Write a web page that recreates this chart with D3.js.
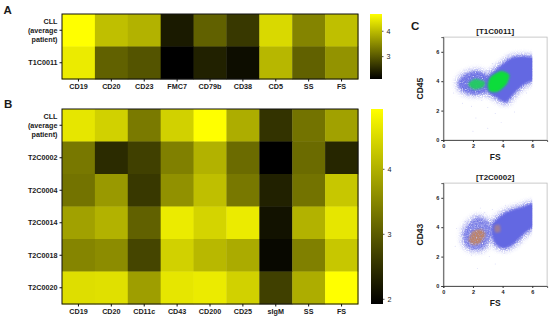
<!DOCTYPE html>
<html><head><meta charset="utf-8">
<script src="https://cdn.jsdelivr.net/npm/d3@7"></script>
<style>
html,body{margin:0;padding:0;background:#fff}
svg{display:block}
text{font-family:"Liberation Sans",Arial,sans-serif;font-weight:700;fill:#1a1a1a}
</style></head><body><svg id="c" width="550" height="321"></svg>
<script>
const markersA = ["CD19","CD20","CD23","FMC7","CD79b","CD38","CD5","SS","FS"];
const rowsA = ["CLL|(average|patient)","T1C0011"];
const valuesA = [
  [4.66,4.02,3.89,2.36,3.07,2.66,4.28,3.43,4.02],
  [4.46,3.07,2.94,2.10,2.43,2.23,3.94,3.07,3.58]
];
const markersB = ["CD19","CD20","CD11c","CD43","CD200","CD25","sIgM","SS","FS"];
const rowsB = ["CLL|(average|patient)","T2C0002","T2C0004","T2C0014","T2C0018","T2C0020"];
const valuesB = [
  [4.62,4.38,3.36,4.38,4.92,3.96,2.52,3.27,3.81],
  [3.33,2.43,2.67,3.42,4.02,3.18,1.92,3.18,2.37],
  [3.27,3.72,2.58,3.63,4.17,3.33,2.31,3.27,4.26],
  [3.81,4.02,3.06,4.68,4.41,4.68,2.13,4.02,4.62],
  [3.48,3.57,2.73,4.38,4.08,3.93,2.01,3.42,4.26],
  [4.53,4.56,3.78,4.62,4.68,4.38,2.67,3.96,4.92]
];
const domainA = [2.1,4.66], ticksA = [3,4];
const domainB = [1.92,4.92], ticksB = [2,3,4];
const scatterTicks = [0,2,4,6];
// Cloud outlines, as [FS, marker] vertices.
const c1MainCloud = [[3.0,4.3],[3.8,5.0],[4.6,5.6],[5.5,5.7],[6.2,5.5],[6.2,4.2],[5.4,3.75],[4.8,3.2],[4.2,2.55],[3.55,2.9],[3.0,3.25],[2.85,3.8]];
const c1LeftCloud = [[1.0,3.85],[1.4,4.4],[2.2,4.7],[2.9,4.4],[3.1,3.75],[2.7,3.2],[2.0,3.1],[1.3,3.35]];
const c1GreenMain = [[3.0,3.75],[3.2,4.3],[3.9,4.7],[4.45,4.45],[4.3,3.85],[3.7,3.3],[3.15,3.3]];
const c1GreenLeft = [[1.7,3.85],[2.13,4.15],[2.8,3.97],[2.7,3.6],[2.13,3.42],[1.8,3.6]];
const c2MainCloud = [[3.35,4.3],[4.2,5.0],[5.2,5.35],[6.2,5.6],[6.2,4.2],[5.5,3.6],[4.85,2.95],[4.15,2.55],[3.55,2.8],[3.25,3.55]];
const c2LeftCloud = [[1.7,4.2],[2.36,4.7],[3.1,4.25],[3.2,3.47],[2.75,2.6],[2.0,2.45],[1.45,2.85],[1.35,3.6]];
const c2Orange = [[2.0,3.7],[2.58,3.85],[2.85,3.47],[2.47,2.9],[2.0,2.8],[1.7,3.13]];
const c2OrangeSmall = [[3.45,4.1],[3.8,4.15],[3.85,3.7],[3.5,3.65]];
const specksC1 = [[1.3,2.5],[1.9,2.3],[2.6,2.7],[3.0,2.2],[3.5,1.8],[4.4,2.4],[4.9,2.9],[5.6,3.2],[1.6,3.0],[2.2,1.5],[3.9,1.2],[2.8,3.1],[1.0,3.6],[5.8,5.9],[4.2,5.6],[3.3,5.2],[2.5,4.9],[1.7,4.7],[0.7,3.2],[3.0,0.8],[2.0,0.6],[4.8,1.9]];
const specksC2 = [[1.2,3.5],[0.9,3.9],[1.5,4.4],[2.0,4.8],[2.8,5.0],[3.3,5.2],[1.4,2.6],[1.9,2.1],[2.6,2.2],[3.1,2.0],[4.1,2.2],[5.2,2.9],[5.6,3.3],[3.5,1.5],[2.3,1.2],[1.1,3.0],[0.8,2.7],[4.2,5.5],[5.0,5.6],[2.5,5.3]];

const svg = d3.select("#c");
const defs = svg.append("defs");
const color = dom => d3.scaleLinear().domain(dom).range(["#000000","#ffff00"]).clamp(true);

defs.append("filter").attr("id","soft").append("feGaussianBlur").attr("stdDeviation",0.9);
function grainFilter(id, dilate, blur, a, b, seed){
  const f=defs.append("filter").attr("id",id).attr("x","-40%").attr("y","-40%").attr("width","180%").attr("height","180%");
  f.append("feMorphology").attr("in","SourceGraphic").attr("operator","dilate").attr("radius",dilate).attr("result","d");
  f.append("feGaussianBlur").attr("in","d").attr("stdDeviation",blur).attr("result","b");
  f.append("feTurbulence").attr("type","fractalNoise").attr("baseFrequency",0.85).attr("numOctaves",1).attr("seed",seed).attr("result","n");
  f.append("feColorMatrix").attr("in","n").attr("type","matrix").attr("values",`0 0 0 0 0  0 0 0 0 0  0 0 0 0 0  ${a} 0 0 0 ${b}`).attr("result","g");
  f.append("feComposite").attr("in","b").attr("in2","g").attr("operator","in");
}
grainFilter("halo",1.5,2.4,3,-0.85,4);
grainFilter("core",0,1.0,3,-0.45,9);

function heatmap(cols, rows, vals, dom, ticks, box, barBox){
  const x = d3.scaleBand().domain(cols).range([box.x0,box.x1]);
  const y = d3.scaleBand().domain(rows).range([box.y0,box.y1]);
  const c = color(dom);
  const g = svg.append("g");
  rows.forEach((r,i)=>cols.forEach((k,j)=>{
    g.append("rect").attr("x",x(k)).attr("y",y(r)).attr("width",x.bandwidth()+0.4).attr("height",y.bandwidth()+0.4).attr("fill",c(vals[i][j]));
  }));
  g.append("rect").attr("x",box.x0).attr("y",box.y0).attr("width",box.x1-box.x0).attr("height",box.y1-box.y0).attr("fill","none").attr("stroke","#111").attr("stroke-width",1);
  const ax = svg.append("g").attr("transform",`translate(0,${box.y1})`).call(d3.axisBottom(x).tickSize(2.5).tickPadding(2.5));
  const ay = svg.append("g").attr("transform",`translate(${box.x0},0)`).call(d3.axisLeft(y).tickSize(2.5).tickPadding(1.5));
  [ax,ay].forEach(a=>{a.select(".domain").remove();a.selectAll("line").attr("stroke","#111").attr("stroke-width",1);});
  ax.selectAll("text").attr("font-size",7.2).attr("fill","#1a1a1a");
  ay.selectAll(".tick").each(function(d){
    const parts=d.split("|");
    const t=d3.select(this).select("text").text(null).attr("font-size",7.2).attr("fill","#1a1a1a").attr("text-anchor","end").attr("x",-4.5);
    t.attr("dy",null).attr("y",null);
    parts.forEach((p,i)=>t.append("tspan").attr("x",-4.5).attr("y",(i-(parts.length-1)/2)*8.9+2.5).text(p));
  });
  const id="grad"+box.y0;
  const gr=defs.append("linearGradient").attr("id",id).attr("x1",0).attr("x2",0).attr("y1",1).attr("y2",0);
  gr.append("stop").attr("offset",0).attr("stop-color",c(dom[0]));
  gr.append("stop").attr("offset",1).attr("stop-color",c(dom[1]));
  const by=d3.scaleLinear().domain(dom).range([barBox.y1,barBox.y0]);
  svg.append("rect").attr("x",barBox.x0).attr("y",barBox.y0).attr("width",barBox.x1-barBox.x0).attr("height",barBox.y1-barBox.y0).attr("fill",`url(#${id})`);
  const bx=svg.append("g").attr("transform",`translate(${barBox.x1},0)`).call(d3.axisRight(by).tickValues(ticks).tickFormat(d3.format("d")).tickSize(1.5).tickPadding(3));
  bx.select(".domain").remove();
  bx.selectAll("line").attr("stroke","#555");
  bx.selectAll("text").attr("font-size",7.2).attr("fill","#333").style("font-weight",400);
}
heatmap(markersA,rowsA,valuesA,domainA,ticksA,{x0:62,x1:358,y0:14,y1:79},{x0:370,x1:382,y0:14,y1:79});
heatmap(markersB,rowsB,valuesB,domainB,ticksB,{x0:62,x1:358,y0:109,y1:304},{x0:371,x1:383,y0:109,y1:304});

[["A",3.5,14],["B",4,108],["C",411,30]].forEach(([t,x,y])=>svg.append("text").attr("x",x).attr("y",y).attr("font-size",11.5).text(t));

function scatter(title,yLabel,layers,specks,o){
  const x=d3.scaleLinear().domain([0,7]).range([o.x0,o.x0+7*14.83]);
  const y=d3.scaleLinear().domain([0,7]).range([o.y0,o.y0-7*14.7]);
  const outline=d3.line().x(d=>x(d[0])).y(d=>y(d[1])).curve(d3.curveCardinalClosed.tension(0.3));
  const clipId="clip"+o.y0;
  defs.append("clipPath").attr("id",clipId).append("rect").attr("x",o.x0).attr("y",y(7)).attr("width",x(6)-o.x0).attr("height",o.y0-y(7));
  const g=svg.append("g").attr("clip-path",`url(#${clipId})`);
  layers.forEach(l=>{
    g.append("path").attr("d",outline(l.pts)).attr("fill",l.fill).attr("opacity",l.op).attr("filter",`url(#${l.f})`);
  });
  svg.append("g").selectAll("circle").data(specks).join("circle").attr("cx",d=>x(d[0])).attr("cy",d=>y(d[1])).attr("r",0.45).attr("fill","#8f92ea").attr("opacity",.55);
  svg.append("rect").attr("x",o.x0).attr("y",y(7)).attr("width",x(7)-o.x0).attr("height",o.y0-y(7)).attr("fill","none").attr("stroke","#bdbdbd").attr("stroke-width",.8);
  const ax=svg.append("g").attr("transform",`translate(0,${o.y0})`).call(d3.axisBottom(x).tickValues(scatterTicks).tickFormat(d3.format("d")).tickSize(2).tickPadding(2));
  const ay=svg.append("g").attr("transform",`translate(${o.x0},0)`).call(d3.axisLeft(y).tickValues(scatterTicks).tickFormat(d3.format("d")).tickSize(2).tickPadding(2));
  [ax,ay].forEach(a=>{a.select(".domain").attr("stroke","#333").attr("stroke-width",.8);a.selectAll("line").attr("stroke","#333");a.selectAll("text").attr("font-size",5.5).attr("fill","#222");});
  svg.append("text").attr("x",x(3.5)).attr("y",y(7)-3.5).attr("text-anchor","middle").attr("font-size",8).text(title);
  svg.append("text").attr("x",x(3.5)).attr("y",o.y0+20).attr("text-anchor","middle").attr("font-size",8.5).text("FS");
  svg.append("text").attr("transform",`translate(${o.x0-20.5},${y(3.5)}) rotate(-90)`).attr("text-anchor","middle").attr("font-size",8.5).text(yLabel);
}
const blue="#6468e2", green="#10dc3a", orange="#c4845c";
scatter("[T1C0011]","CD45",[
  {pts:c1MainCloud,fill:"#7a7ee6",op:.9,f:"halo"},{pts:c1LeftCloud,fill:"#7a7ee6",op:.8,f:"halo"},
  {pts:c1LeftCloud,fill:blue,op:.8,f:"core"},{pts:c1MainCloud,fill:blue,op:1,f:"soft"},
  {pts:c1GreenMain,fill:green,op:1,f:"soft"},{pts:c1GreenLeft,fill:"#20cc60",op:.95,f:"soft"}
],specksC1,{x0:443.3,y0:140});
scatter("[T2C0002]","CD43",[
  {pts:c2MainCloud,fill:"#7a7ee6",op:.9,f:"halo"},{pts:c2LeftCloud,fill:"#7a7ee6",op:.75,f:"halo"},
  {pts:c2LeftCloud,fill:blue,op:.6,f:"core"},{pts:c2MainCloud,fill:blue,op:1,f:"soft"},
  {pts:c2Orange,fill:orange,op:.85,f:"core"},{pts:c2OrangeSmall,fill:"#a8808c",op:.85,f:"soft"}
],specksC2,{x0:443.3,y0:286});
</script></body></html>
